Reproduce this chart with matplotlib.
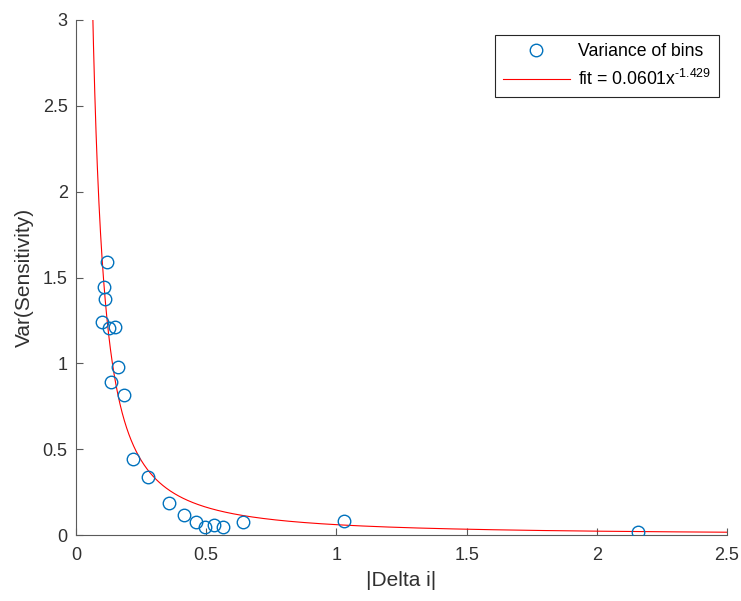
import numpy as np
import matplotlib
matplotlib.use("Agg")
import matplotlib.pyplot as plt

plt.rcParams['font.family'] = ['Liberation Sans', 'DejaVu Sans']
plt.rcParams['mathtext.fontset'] = 'custom'
plt.rcParams['mathtext.rm'] = 'Liberation Sans'
plt.rcParams['mathtext.it'] = 'Liberation Sans:italic'

delta_i = [0.118, 0.106, 0.111, 0.101, 0.127, 0.149, 0.163, 0.134, 0.183,
           0.218, 0.276, 0.357, 0.415, 0.461, 0.497, 0.530, 0.563, 0.640,
           1.030, 2.157]
var_sens = [1.589, 1.447, 1.373, 1.241, 1.206, 1.214, 0.981, 0.891, 0.814,
            0.443, 0.336, 0.186, 0.117, 0.074, 0.049, 0.056, 0.049, 0.078,
            0.083, 0.019]
fit_a = 0.0601
fit_b = -1.429

fig = plt.figure(figsize=(7.41, 6.01), dpi=100)
ax = fig.add_axes([76/741, 1-535/601, (727-76)/741, (535-20)/601])

xf = np.linspace(0.055, 2.5, 2000)
yf = fit_a * xf ** fit_b
ax.plot(delta_i, var_sens, 'o', mfc='none', mec='#0072BD', ms=9, mew=1.0,
        label='Variance of bins', zorder=3)
ax.plot(xf, yf, '-', color='#FF0000', lw=0.8,
        label='fit = 0.0601x$^{\\text{-1.429}}$', zorder=2)

ax.set_xlim(0, 2.5)
ax.set_ylim(0, 3)
ax.set_xticks([0, 0.5, 1, 1.5, 2, 2.5])
ax.set_xticklabels(['0', '0.5', '1', '1.5', '2', '2.5'])
ax.set_yticks([0, 0.5, 1, 1.5, 2, 2.5, 3])
ax.set_yticklabels(['0', '0.5', '1', '1.5', '2', '2.5', '3'])
for s in ['top', 'right']:
    ax.spines[s].set_visible(False)
for s in ['left', 'bottom']:
    ax.spines[s].set_color('#5a5a5a')
    ax.spines[s].set_linewidth(0.8)
ax.tick_params(direction='in', length=5, width=0.8, colors='#5a5a5a',
               labelcolor='#303030', labelsize=13, pad=6)
ax.tick_params(axis='x', pad=9)
ax.set_xlabel('|Delta i|', fontsize=15, color='#303030', labelpad=5)
ax.set_ylabel('Var(Sensitivity)', fontsize=15, color='#303030', labelpad=6)

leg = ax.legend(loc='upper right', bbox_to_anchor=(719/741, 1-35/601),
                bbox_transform=fig.transFigure, fancybox=False,
                edgecolor='#262626', fontsize=12.7, handlelength=3.8,
                handletextpad=0.45, borderaxespad=0, framealpha=1,
                borderpad=0.45, labelspacing=0.5)
leg.get_frame().set_linewidth(0.8)

fig.savefig('out.png', dpi=100)
